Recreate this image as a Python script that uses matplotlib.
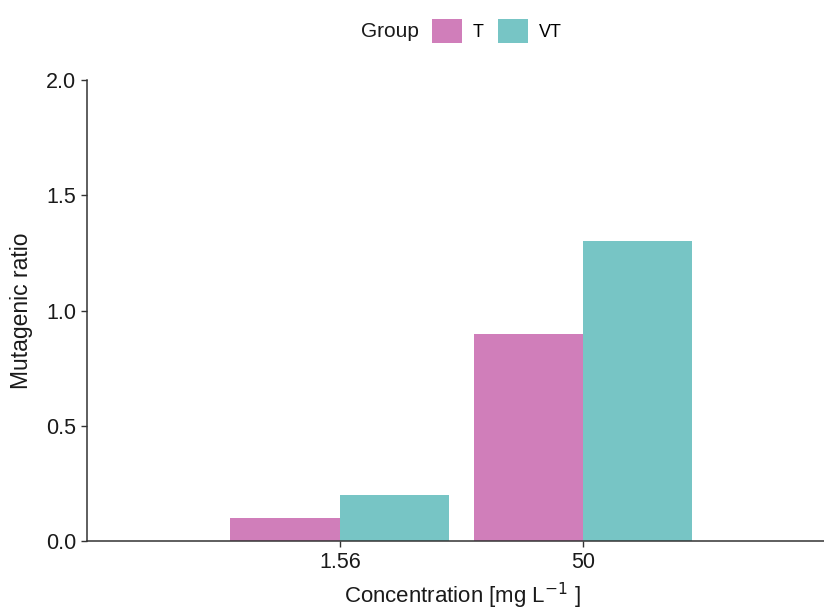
import matplotlib
matplotlib.use("Agg")
import matplotlib.pyplot as plt
import numpy as np
from matplotlib.patches import Patch

plt.rcParams["font.family"] = ["Liberation Sans", "DejaVu Sans"]

# Mutagenic ratio per concentration and group
concentrations = ["1.56", "50"]
groups = ["T", "VT"]
ratio_t = [0.1, 0.9]
ratio_vt = [0.2, 1.3]
group_colors = {"T": "#D07EBA", "VT": "#77C5C5"}

y_ticks = [0.0, 0.5, 1.0, 1.5, 2.0]

fig = plt.figure(figsize=(8.24, 6.12), dpi=100)
ax = fig.add_axes([0.1056, 0.116, 0.894, 0.753])

x = np.arange(1, len(concentrations) + 1)
width = 0.45
ax.bar(x - width / 2, ratio_t, width=width, color=group_colors["T"], linewidth=0)
ax.bar(x + width / 2, ratio_vt, width=width, color=group_colors["VT"], linewidth=0)

ax.set_xlim(-0.04, 2.99)
ax.set_ylim(0, 2.0)
ax.set_xticks(x)
ax.set_xticklabels(concentrations)
ax.set_yticks(y_ticks)
ax.set_yticklabels([f"{v:.1f}" for v in y_ticks])

for side in ("top", "right"):
    ax.spines[side].set_visible(False)
for side in ("left", "bottom"):
    ax.spines[side].set_color("#333333")
    ax.spines[side].set_linewidth(1.1)

ax.tick_params(axis="both", direction="out", length=4, width=1.0,
               color="#333333", labelsize=15.5, labelcolor="#1a1a1a", pad=4)

ax.set_xlabel("Concentration [mg L$^{-1}$ ]", fontsize=16, color="#1a1a1a")
ax.xaxis.set_label_coords(0.51, -0.12, transform=ax.transAxes)
ax.xaxis.label.set_va("center")
ax.set_ylabel("Mutagenic ratio", fontsize=16.5, color="#1a1a1a", labelpad=9)

handles = [Patch(facecolor=group_colors[g], edgecolor="none", label=g) for g in groups]
fig.legend(handles=handles, loc="center left", bbox_to_anchor=(0.516, 0.949),
           ncol=2, frameon=False, fontsize=13, handlelength=1.65, handleheight=1.65,
           handletextpad=0.6, columnspacing=0.8, borderaxespad=0)
fig.text(0.438, 0.949, "Group", fontsize=15, color="#1a1a1a", ha="left", va="center")

fig.savefig("out.png", dpi=100, facecolor="white")
